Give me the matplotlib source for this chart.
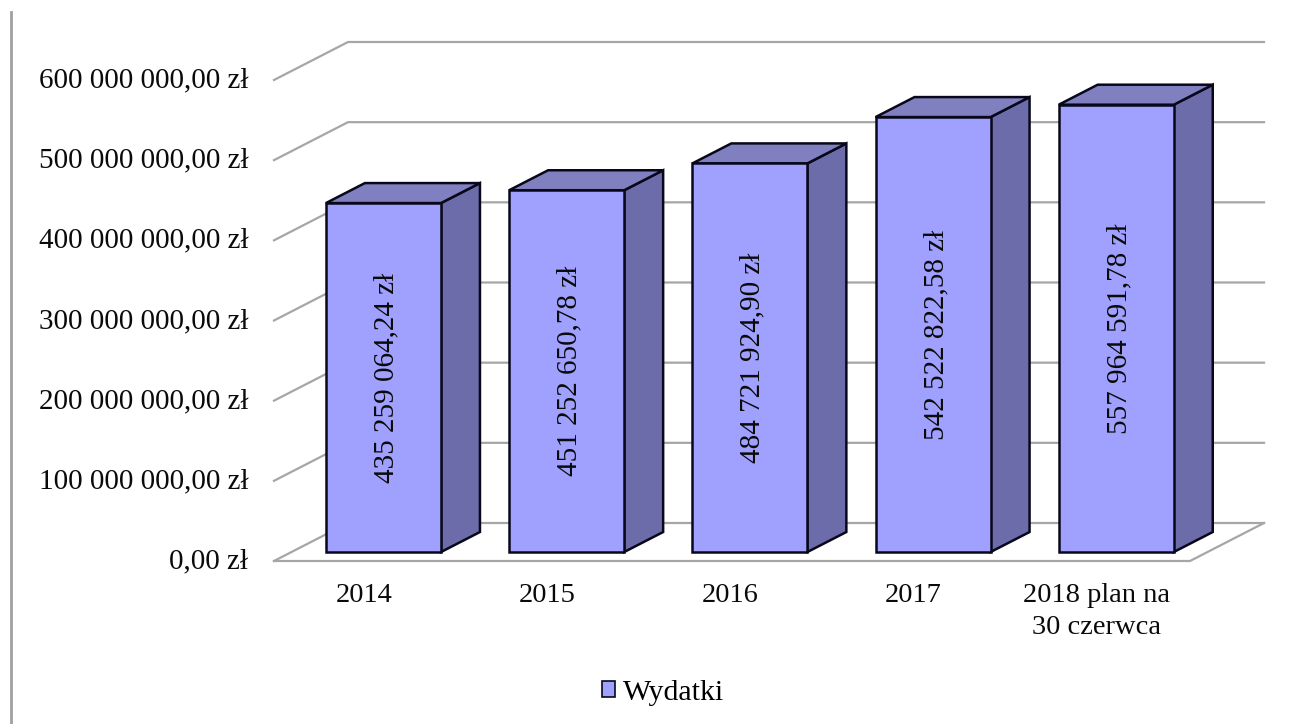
import matplotlib
matplotlib.use("Agg")
import matplotlib.pyplot as plt
from matplotlib.patches import Polygon, Patch
from matplotlib.lines import Line2D
from matplotlib.transforms import ScaledTranslation

plt.rcParams["font.family"] = ["Liberation Serif", "DejaVu Serif"]

# dane
lata = ["2014", "2015", "2016", "2017", "2018 plan na\n30 czerwca"]
wydatki = [435259064.24, 451252650.78, 484721924.90, 542522822.58, 557964591.78]
poziomy = [0, 100000000, 200000000, 300000000, 400000000, 500000000, 600000000]

# kolory
PRZOD = "#A0A0FF"
BOK = "#6C6CAA"
GORA = "#8080C0"
SIATKA = "#A6A6A6"
TEKST = "#0A0A0A"
KRAWEDZ = "#08081A"

# uklad: plaszczyzna przednia w pikselach
W, H = 1292, 724
X0, X1 = 274, 1190
Y0, Y1 = 561, 80

# przesuniecie tylnej sciany (w jednostkach danych)
DX = 74 / ((X1 - X0) / len(lata))
DY = 38 / ((Y0 - Y1) / poziomy[-1])


def rzut(x, v, d):
    return (x + d * DX, v + d * DY)


def zl(v):
    tekst = f"{v:,.2f}".replace(",", " ").replace(".", ",")
    return tekst + " zł"


fig = plt.figure(figsize=(W / 100, H / 100), dpi=100)
ax = fig.add_axes([X0 / W, 1 - Y0 / H, (X1 - X0) / W, (Y0 - Y1) / H])
ax.set_xlim(0, len(lata))
ax.set_ylim(0, poziomy[-1])
ax.patch.set_visible(False)
for s in ax.spines.values():
    s.set_visible(False)

ax.set_yticks(poziomy)
ax.set_yticklabels([zl(v) for v in poziomy], fontsize=21, color=TEKST)
ax.set_xticks([i + 0.49 for i in range(len(lata))])
ax.set_xticklabels(lata, fontsize=20.5, color=TEKST, linespacing=1.38)
ax.tick_params(axis="y", length=0, pad=18.5)
ax.tick_params(axis="x", length=0, pad=15.5)

# etykiety osi Y troche wyzej
przesun = ScaledTranslation(0, 2.5 / 100, fig.dpi_scale_trans)
for lab in ax.get_yticklabels():
    lab.set_transform(lab.get_transform() + przesun)

# siatka
for v in poziomy:
    a = rzut(0, v, 0)
    b = rzut(0, v, 1)
    c = rzut(len(lata), v, 1)
    ax.plot([a[0], b[0], c[0]], [a[1], b[1], c[1]], color=SIATKA, lw=1.6,
            clip_on=False, zorder=1, solid_joinstyle="miter")

# podloga
rog1 = rzut(0, 0, 0)
rog2 = rzut(len(lata), 0, 0)
rog3 = rzut(len(lata), 0, 1)
ax.plot([rog1[0], rog2[0], rog3[0]], [rog1[1], rog2[1], rog3[1]], color=SIATKA, lw=1.6,
        clip_on=False, zorder=1)

# slupki
SZER = 0.628
D1, D2 = 0.237, 0.763
for i, v in enumerate(wydatki):
    x1 = i + 0.188
    x2 = x1 + SZER
    bok = [rzut(x2, 0, D1), rzut(x2, 0, D2), rzut(x2, v, D2), rzut(x2, v, D1)]
    gora = [rzut(x1, v, D1), rzut(x1, v, D2), rzut(x2, v, D2), rzut(x2, v, D1)]
    przod = [rzut(x1, 0, D1), rzut(x2, 0, D1), rzut(x2, v, D1), rzut(x1, v, D1)]
    for pts, kolor in ((bok, BOK), (gora, GORA), (przod, PRZOD)):
        ax.add_patch(Polygon(pts, closed=True, facecolor=kolor, edgecolor=KRAWEDZ,
                             lw=1.8, joinstyle="miter", clip_on=False, zorder=3))
    sx, sy = rzut((x1 + x2) / 2 + 0.016, v / 2, D1)
    ax.text(sx, sy, zl(v), rotation=90, ha="center", va="center", fontsize=21,
            color=TEKST, zorder=4)

# legenda
fig.legend(handles=[Patch(facecolor=PRZOD, edgecolor=KRAWEDZ, lw=1.2, label="Wydatki")],
           loc="center", bbox_to_anchor=(663 / W, 1 - 693 / H), frameon=False, fontsize=21.5,
           handlelength=0.45, handleheight=0.45, handletextpad=0.25)

# pionowa linia po lewej
fig.add_artist(Line2D([11 / W, 11 / W], [0, 1 - 12 / H], color="#A0A0A0", lw=2))

fig.savefig("out.png", dpi=100)
